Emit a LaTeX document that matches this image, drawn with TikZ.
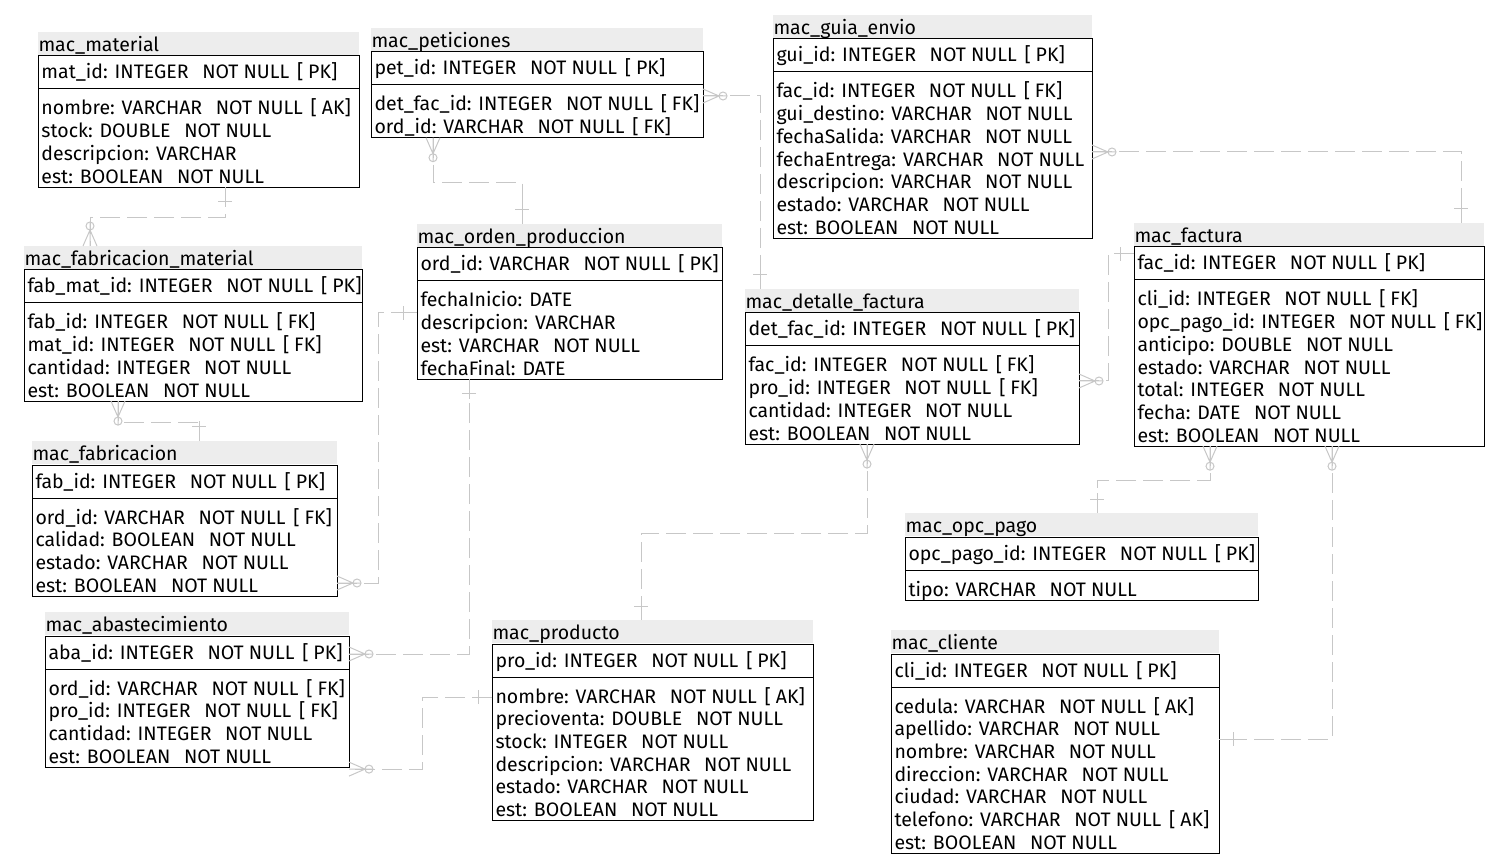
\documentclass[tikz,border=0pt]{standalone}
\usepackage{fontspec}
\setmainfont{Fira Sans}
\usetikzlibrary{calc}
\newcommand{\notnull}{\hspace{0.7em}NOT NULL}
\newcommand{\keytag}[1]{\hspace{0.4em}[\hspace{0.25em}#1]}
% id, corner, width, rows, title, key, attributes
\newcommand{\ertable}[7]{%
  \node[tabband, minimum width=#3pt] (#1-t) at (#2) {};
  \node[tabtext] (#1-tt) at ($(#1-t.north west)+(0,19.5)$) {#5};
  \node[tabkey, minimum width=#3pt] (#1-k) at ($(#1-t.north west)+(0,24)$) {};
  \node[tabtext] (#1-kt) at ($(#1-k.north west)+(3,23)$) {#6};
  \node[tabkey, minimum width=#3pt, minimum height={7.3pt+22.7pt*#4}] (#1) at (#1-k.south west) {};
  \foreach \attr [count=\i] in {#7}
    \node[tabtext] (#1-\i) at ($(#1.north west)+(3,{26+22.7*(\i-1)})$) {\attr};
}

\begin{document}
\begin{tikzpicture}[x=1pt, y=-1pt, line width=1pt,
  crow/.pic={\draw[rel, solid] (0,-7) -- (16,0) -- (0,7) (0,0) -- (24,0); \draw[rel, solid] (20,0) circle (4pt);},
  one/.pic={\draw[rel, solid] (14,-7) -- (14,7) (0,0) -- (20,0);}]
    \tikzstyle{rel}=[draw=black!22, dash pattern=on 20pt off 7pt]
    \tikzstyle{tabband}=[fill=black!7, inner sep=0pt, outer sep=0pt, minimum height=23pt, anchor=north west]
    \tikzstyle{tabkey}=[draw, inner sep=0pt, outer sep=0pt, minimum height=33pt, anchor=north west]
    \tikzstyle{tabtext}=[anchor=base west, inner sep=0pt, font=\fontsize{19.5pt}{22.7pt}\selectfont]

    \useasboundingbox (0,0) rectangle (1489,858);

    \ertable{mat}{38,32}{321}{4}{mac\_material}{mat\_id: INTEGER\notnull\keytag{PK}}
      {nombre: VARCHAR\notnull\keytag{AK}, stock: DOUBLE\notnull, descripcion: VARCHAR, est: BOOLEAN\notnull}
    \ertable{pet}{371,28}{332}{2}{mac\_peticiones}{pet\_id: INTEGER\notnull\keytag{PK}}
      {det\_fac\_id: INTEGER\notnull\keytag{FK}, ord\_id: VARCHAR\notnull\keytag{FK}}
    \ertable{gui}{773,15}{319}{7}{mac\_guia\_envio}{gui\_id: INTEGER\notnull\keytag{PK}}
      {fac\_id: INTEGER\notnull\keytag{FK}, gui\_destino: VARCHAR\notnull, fechaSalida: VARCHAR\notnull,
       fechaEntrega: VARCHAR\notnull, descripcion: VARCHAR\notnull, estado: VARCHAR\notnull, est: BOOLEAN\notnull}
    \ertable{fabmat}{24,246}{338}{4}{mac\_fabricacion\_material}{fab\_mat\_id: INTEGER\notnull\keytag{PK}}
      {fab\_id: INTEGER\notnull\keytag{FK}, mat\_id: INTEGER\notnull\keytag{FK}, cantidad: INTEGER\notnull, est: BOOLEAN\notnull}
    \ertable{ord}{417,224}{305}{4}{mac\_orden\_produccion}{ord\_id: VARCHAR\notnull\keytag{PK}}
      {fechaInicio: DATE, descripcion: VARCHAR, est: VARCHAR\notnull, fechaFinal: DATE}
    \ertable{det}{745,289}{334}{4}{mac\_detalle\_factura}{det\_fac\_id: INTEGER\notnull\keytag{PK}}
      {fac\_id: INTEGER\notnull\keytag{FK}, pro\_id: INTEGER\notnull\keytag{FK}, cantidad: INTEGER\notnull, est: BOOLEAN\notnull}
    \ertable{fac}{1134,223}{350}{7}{mac\_factura}{fac\_id: INTEGER\notnull\keytag{PK}}
      {cli\_id: INTEGER\notnull\keytag{FK}, opc\_pago\_id: INTEGER\notnull\keytag{FK}, anticipo: DOUBLE\notnull,
       estado: VARCHAR\notnull, total: INTEGER\notnull, fecha: DATE\notnull, est: BOOLEAN\notnull}
    \ertable{fab}{32,441}{305}{4}{mac\_fabricacion}{fab\_id: INTEGER\notnull\keytag{PK}}
      {ord\_id: VARCHAR\notnull\keytag{FK}, calidad: BOOLEAN\notnull, estado: VARCHAR\notnull, est: BOOLEAN\notnull}
    \ertable{aba}{45,612}{304}{4}{mac\_abastecimiento}{aba\_id: INTEGER\notnull\keytag{PK}}
      {ord\_id: VARCHAR\notnull\keytag{FK}, pro\_id: INTEGER\notnull\keytag{FK}, cantidad: INTEGER\notnull, est: BOOLEAN\notnull}
    \ertable{pro}{492,620}{321}{6}{mac\_producto}{pro\_id: INTEGER\notnull\keytag{PK}}
      {nombre: VARCHAR\notnull\keytag{AK}, precioventa: DOUBLE\notnull, stock: INTEGER\notnull,
       descripcion: VARCHAR\notnull, estado: VARCHAR\notnull, est: BOOLEAN\notnull}
    \ertable{opc}{905,513}{353}{1}{mac\_opc\_pago}{opc\_pago\_id: INTEGER\notnull\keytag{PK}}
      {tipo: VARCHAR\notnull}
    \ertable{cli}{891,630}{328}{7}{mac\_cliente}{cli\_id: INTEGER\notnull\keytag{PK}}
      {cedula: VARCHAR\notnull\keytag{AK}, apellido: VARCHAR\notnull, nombre: VARCHAR\notnull, direccion: VARCHAR\notnull,
       ciudad: VARCHAR\notnull, telefono: VARCHAR\notnull\keytag{AK}, est: BOOLEAN\notnull}

    % relations, child end with crow foot
    \draw[rel] ([xshift=187pt]mat.south west) pic[rotate=-90]{one} -- ++(0,30) -| ([xshift=66pt]fabmat-t.north west) pic[rotate=90]{crow};
    \draw[rel] ([xshift=62pt]pet.south west) pic[rotate=-90]{crow} -- ++(0,45) -| ([xshift=105pt]ord-t.north west) pic[rotate=90]{one};
    \draw[rel] ([yshift=-11pt]pet.north east) pic{crow} -| ([xshift=15pt]det-t.north west) pic[rotate=90]{one};
    \draw[rel] ([yshift=-80pt]gui.north east) pic{crow} -| ([xshift=327pt]fac-t.north west) pic[rotate=90]{one};
    \draw[rel] ([yshift=-35pt]det.north east) pic{crow} -- ++(29,0) |- ([yshift=-7pt]fac-k.north west) pic[rotate=180]{one};
    \draw[rel] ([xshift=122pt]det.south west) pic[rotate=-90]{crow} -- ++(0,89) -| ([xshift=149pt]pro-t.north west) pic[rotate=90]{one};
    \draw[rel] ([xshift=76pt]fac.south west) pic[rotate=-90]{crow} -- ++(0,34) -| ([xshift=192pt]opc-t.north west) pic[rotate=90]{one};
    \draw[rel] ([xshift=198pt]fac.south west) pic[rotate=-90]{crow} |- ([yshift=-52pt]cli.north east) pic{one};
    \draw[rel] ([xshift=94pt]fabmat.south west) pic[rotate=-90]{crow} -- ++(0,21) -| ([xshift=167pt]fab-t.north west) pic[rotate=90]{one};
    \draw[rel] ([yshift=-85pt]fab.north east) pic{crow} -- ++(41,0) |- ([yshift=-32pt]ord.north west) pic[rotate=180]{one};
    \draw[rel] ([yshift=-18pt]aba-k.north east) pic{crow} -| ([xshift=52pt]ord.south west) pic[rotate=-90]{one};
    \draw[rel] ([yshift=-20pt]pro.north west) pic[rotate=180]{one} -- ++(-70,0) |- ([yshift=-2pt]aba.south east) pic{crow};
\end{tikzpicture}
\end{document}
